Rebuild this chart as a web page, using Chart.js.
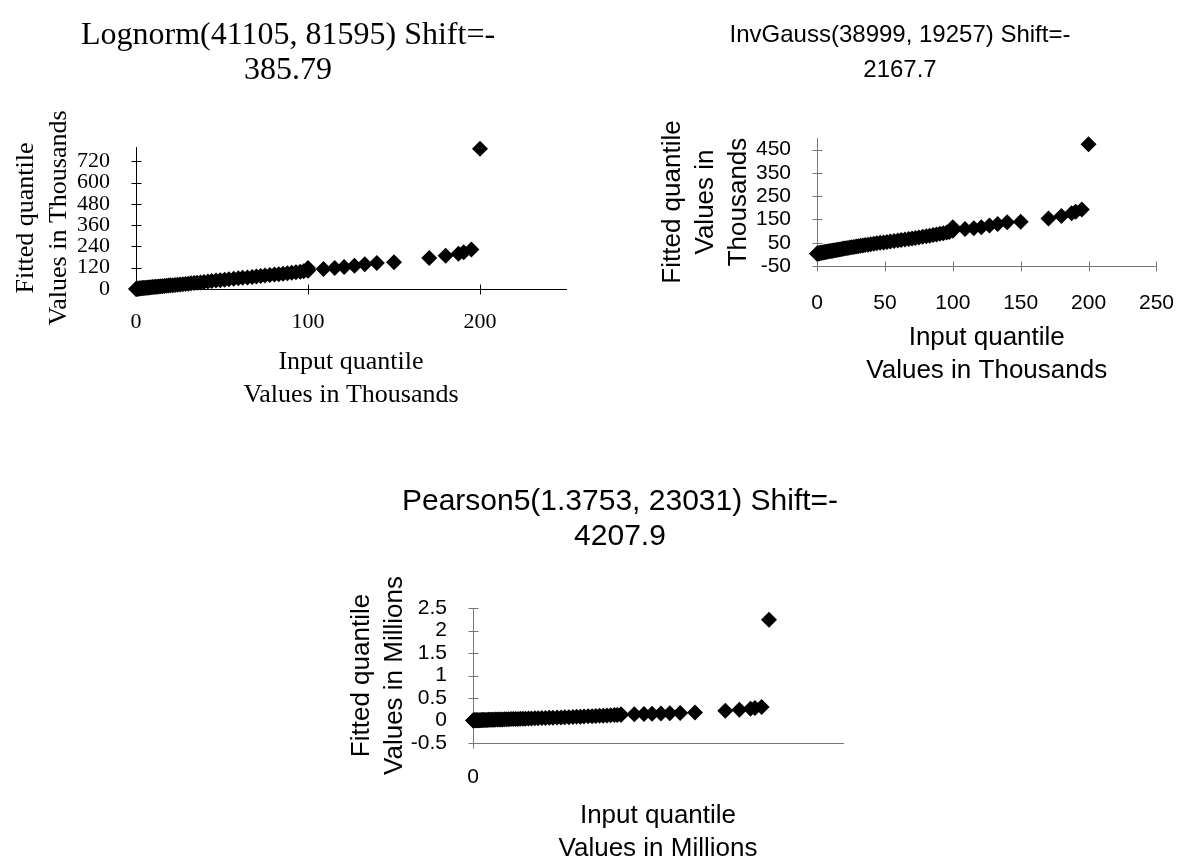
<!DOCTYPE html>
<html>
<head>
<meta charset="utf-8">
<script src="https://cdn.jsdelivr.net/npm/chart.js@4/dist/chart.umd.min.js"></script>
<style>
  html, body { margin: 0; padding: 0; background: #fff; width: 1192px; height: 858px; overflow: hidden; position: relative; }
  canvas { position: absolute; }
</style>
</head>
<body>
<canvas id="lognormChart" style="left:0px;top:0px"></canvas>
<canvas id="invGaussChart" style="left:600px;top:0px"></canvas>
<canvas id="pearson5Chart" style="left:292px;top:460px"></canvas>
<script>
// Sorted input data (thousands) and the fitted quantiles of each distribution (thousands)
const inputQuantile = [
  0.0, 0.3, 0.6, 1.0, 1.4, 1.8, 2.3, 2.8, 3.3, 3.9,
  4.5, 5.1, 5.8, 6.5, 7.2, 8.0, 8.8, 9.6, 10.5, 11.4,
  12.3, 13.3, 14.3, 15.4, 16.5, 17.7, 18.9, 20.0, 21.4, 22.8,
  24.2, 25.7, 27.2, 28.8, 30.4, 32.0, 33.8, 35.5, 37.5, 39.5,
  41.8, 44.0, 46.5, 49.0, 51.5, 54.0, 56.8, 59.5, 62.0, 64.8,
  67.5, 70.0, 72.5, 75.0, 77.8, 80.5, 83.0, 85.5, 88.0, 90.5,
  93.0, 95.5, 97.5, 100.0, 100.0, 100.0, 109.0, 115.5, 121.0, 127.0,
  133.0, 140.0, 150.0, 170.5, 180.0, 187.5, 190.5, 195.0, 200.0
];
const lognormFitted = [
  0.4, 0.9, 1.4, 1.9, 2.4, 2.9, 3.4, 3.9, 4.4, 5.0,
  5.6, 6.2, 6.9, 7.6, 8.3, 9.0, 9.8, 10.6, 11.4, 12.3,
  13.2, 14.1, 15.1, 16.1, 17.2, 18.3, 19.4, 20.6, 21.8, 23.1,
  24.4, 25.8, 27.2, 28.7, 30.2, 31.8, 33.5, 35.2, 37.0, 38.9,
  42.5, 44.8, 47.3, 49.8, 52.3, 54.8, 57.5, 60.2, 62.7, 65.4,
  68.1, 70.6, 73.1, 75.6, 78.4, 81.1, 83.7, 86.3, 88.9, 91.5,
  94.2, 96.8, 99.3, 103.0, 110.0, 118.0, 113.0, 118.0, 124.0, 131.0,
  139.0, 146.0, 151.0, 174.0, 187.0, 199.0, 207.0, 222.0, 790.0
];
const invGaussFitted = [
  3.0, 3.4, 3.8, 4.2, 4.7, 5.2, 5.8, 6.4, 7.0, 7.6,
  8.3, 9.0, 9.8, 10.6, 11.4, 12.2, 13.1, 14.0, 14.9, 15.9,
  16.9, 17.9, 19.0, 20.1, 21.3, 22.5, 23.7, 24.9, 26.3, 27.7,
  29.1, 30.6, 32.1, 33.6, 35.1, 36.6, 38.2, 39.8, 41.6, 43.4,
  45.4, 47.3, 49.4, 51.5, 53.5, 55.5, 57.7, 59.8, 61.8, 64.0,
  66.2, 68.3, 70.5, 72.8, 75.4, 78.0, 80.5, 83.1, 85.7, 88.4,
  91.1, 94.0, 96.5, 101.0, 108.0, 116.0, 109.0, 112.0, 117.0, 124.0,
  131.0, 138.0, 140.0, 154.0, 165.0, 177.0, 183.0, 193.0, 473.0
];
const pearson5Fitted = [
  2.0, 2.5, 3.0, 3.5, 4.0, 4.5, 5.0, 5.6, 6.2, 6.9,
  7.6, 8.3, 9.0, 9.8, 10.6, 11.5, 12.4, 13.3, 14.3, 15.3,
  16.3, 17.4, 18.5, 19.7, 20.9, 22.2, 23.5, 24.8, 26.3, 27.8,
  29.3, 30.9, 32.6, 34.3, 36.0, 37.8, 39.7, 41.6, 43.7, 45.9,
  48.3, 50.7, 53.3, 56.0, 58.8, 61.6, 64.7, 67.8, 70.9, 74.2,
  77.5, 80.9, 84.4, 88.0, 91.8, 95.7, 99.7, 103.8, 108.0, 112.3,
  116.7, 121.2, 125.0, 128.0, 131.0, 134.0, 137.0, 142.0, 148.0, 155.0,
  162.0, 169.0, 177.0, 215.0, 238.0, 262.0, 277.0, 298.0, 2240.0
];

// Axis tick values shown on each panel
const lognormXTicks = [0, 100, 200];
const lognormYTicks = [0, 120, 240, 360, 480, 600, 720];
const invGaussXTicks = [0, 50, 100, 150, 200, 250];
const invGaussYTicks = [-50, 50, 150, 250, 350, 450];
const pearson5XTicks = [0];
const pearson5YTicks = [-0.5, 0, 0.5, 1, 1.5, 2, 2.5];

// Excel-style tick marks that cross the axis line
const crossTicks = {
  id: 'crossTicks',
  beforeDatasetsDraw(chart, args, opts) {
    const ctx = chart.ctx;
    const xs = chart.scales.x, ys = chart.scales.y;
    const len = opts.len;
    const axisY = Math.round(ys.getPixelForValue(ys.min)) + 0.5;
    const axisX = Math.round(xs.getPixelForValue(xs.min)) + 0.5;
    ctx.save();
    ctx.strokeStyle = opts.color;
    ctx.lineWidth = 1;
    ctx.beginPath();
    xs.ticks.forEach(t => {
      const p = Math.round(xs.getPixelForValue(t.value)) + 0.5;
      ctx.moveTo(p, axisY - len); ctx.lineTo(p, axisY + len);
    });
    ys.ticks.forEach(t => {
      const p = Math.round(ys.getPixelForValue(t.value)) + 0.5;
      ctx.moveTo(axisX - len, p); ctx.lineTo(axisX + len, p);
    });
    ctx.stroke();
    ctx.restore();
  }
};

function qqPanel(canvasId, p) {
  const canvas = document.getElementById(canvasId);
  canvas.width = p.width; canvas.height = p.height;
  const points = inputQuantile.map((v, i) => ({ x: v / p.xDiv, y: p.fitted[i] / p.yDiv }));
  const scales = {
    x: {
      type: 'linear', position: 'bottom', min: p.xMin, max: p.xMax,
      afterBuildTicks: s => { s.ticks = p.xTicks.map(v => ({ value: v })); },
      afterFit: s => { s.height = p.xAxisHeight; },
      grid: { display: false },
      border: { display: true, color: p.axisColor, width: 1 },
      ticks: { color: '#000', font: p.tickFont, padding: p.xTickPad, maxRotation: 0, autoSkip: false,
               callback: v => String(v) },
      title: { display: true, text: p.xTitle, color: '#000', font: p.axisTitleFont,
               padding: { top: 0, bottom: p.xTitlePadBottom } }
    },
    y: {
      type: 'linear', position: 'left', min: p.yMin, max: p.yMax,
      afterBuildTicks: s => { s.ticks = p.yTicks.map(v => ({ value: v })); },
      afterFit: s => { s.width = p.yAxisWidth; },
      grid: { display: false },
      border: { display: true, color: p.axisColor, width: 1 },
      ticks: { color: '#000', font: p.tickFont, padding: p.yTickPad, autoSkip: false,
               callback: v => String(v) },
      title: { display: true, text: p.yTitle, color: '#000', font: p.axisTitleFont,
               padding: { top: p.yTitlePadTop, bottom: 0 } }
    }
  };
  if (p.rightGap) {
    scales.gap = {
      type: 'linear', position: 'right', axis: 'y',
      afterFit: s => { s.width = p.rightGap; },
      grid: { display: false }, border: { display: false },
      ticks: { display: false }, title: { display: false }
    };
  }
  return new Chart(canvas, {
    type: 'scatter',
    data: {
      datasets: [{
        data: points,
        clip: false,
        pointStyle: 'rectRot',
        pointRadius: 8,
        pointHoverRadius: 8,
        backgroundColor: '#000',
        borderColor: '#000',
        borderWidth: 0
      }]
    },
    options: {
      responsive: false,
      animation: false,
      events: [],
      layout: { padding: p.padding },
      scales,
      plugins: {
        legend: { display: false },
        tooltip: { enabled: false },
        crossTicks: { len: 5, color: p.axisColor },
        title: {
          display: true, text: p.title, color: '#000', font: p.titleFont,
          padding: { top: p.titlePadTop, bottom: p.titlePadBottom }
        }
      }
    },
    plugins: [crossTicks]
  });
}

const serif = 'Liberation Serif, Times New Roman, serif';
const sans = 'Liberation Sans, Arial, sans-serif';

qqPanel('lognormChart', {
  width: 600, height: 420,
  padding: { left: 10, right: 34, top: 0, bottom: 0 },
  fitted: lognormFitted, xDiv: 1, yDiv: 1,
  xMin: 0, xMax: 250, yMin: 0, yMax: 800,
  xTicks: lognormXTicks, yTicks: lognormYTicks,
  axisColor: '#000',
  title: ['Lognorm(41105, 81595) Shift=-', '385.79'],
  titleFont: { family: serif, size: 32, weight: 'normal', lineHeight: '35px' },
  titlePadTop: 18, titlePadBottom: 59,
  tickFont: { family: serif, size: 22, weight: 'normal', lineHeight: '24px' },
  axisTitleFont: { family: serif, size: 26, weight: 'normal', lineHeight: '33px' },
  xTitle: ['Input quantile', 'Values in Thousands'],
  yTitle: ['Fitted quantile', 'Values in Thousands'],
  xAxisHeight: 131, xTickPad: 13, xTitlePadBottom: 8,
  yAxisWidth: 126, yTickPad: 18, yTitlePadTop: 0
});

qqPanel('invGaussChart', {
  width: 592, height: 420,
  padding: { left: 28, right: 20, top: 0, bottom: 0 },
  fitted: invGaussFitted, xDiv: 1, yDiv: 1,
  xMin: 0, xMax: 250, yMin: -50, yMax: 500,
  xTicks: invGaussXTicks, yTicks: invGaussYTicks,
  axisColor: '#777',
  title: ['InvGauss(38999, 19257) Shift=-', '2167.7'],
  titleFont: { family: sans, size: 24, weight: 'normal', lineHeight: '35px' },
  titlePadTop: 18, titlePadBottom: 50,
  tickFont: { family: sans, size: 21, weight: 'normal', lineHeight: '23px' },
  axisTitleFont: { family: sans, size: 26, weight: 'normal', lineHeight: '33px' },
  xTitle: ['Input quantile', 'Values in Thousands'],
  yTitle: ['Fitted quantile', 'Values in', 'Thousands'],
  xAxisHeight: 154, xTickPad: 18, xTitlePadBottom: 33,
  yAxisWidth: 189, yTickPad: 18, yTitlePadTop: 28
});

qqPanel('pearson5Chart', {
  width: 608, height: 420,
  padding: { left: 48, right: 0, top: 0, bottom: 0 },
  rightGap: 57,
  fitted: pearson5Fitted, xDiv: 1000, yDiv: 1000,
  xMin: 0, xMax: 0.25, yMin: -0.5, yMax: 2.5,
  xTicks: pearson5XTicks, yTicks: pearson5YTicks,
  axisColor: '#777',
  title: ['Pearson5(1.3753, 23031) Shift=-', '4207.9'],
  titleFont: { family: sans, size: 30, weight: 'normal', lineHeight: '35px' },
  titlePadTop: 24, titlePadBottom: 54,
  tickFont: { family: sans, size: 21, weight: 'normal', lineHeight: '23px' },
  axisTitleFont: { family: sans, size: 26, weight: 'normal', lineHeight: '33px' },
  xTitle: ['Input quantile', 'Values in Millions'],
  yTitle: ['Fitted quantile', 'Values in Millions'],
  xAxisHeight: 137, xTickPad: 15, xTitlePadBottom: 15,
  yAxisWidth: 133, yTickPad: 18, yTitlePadTop: 5
});
</script>
</body>
</html>
